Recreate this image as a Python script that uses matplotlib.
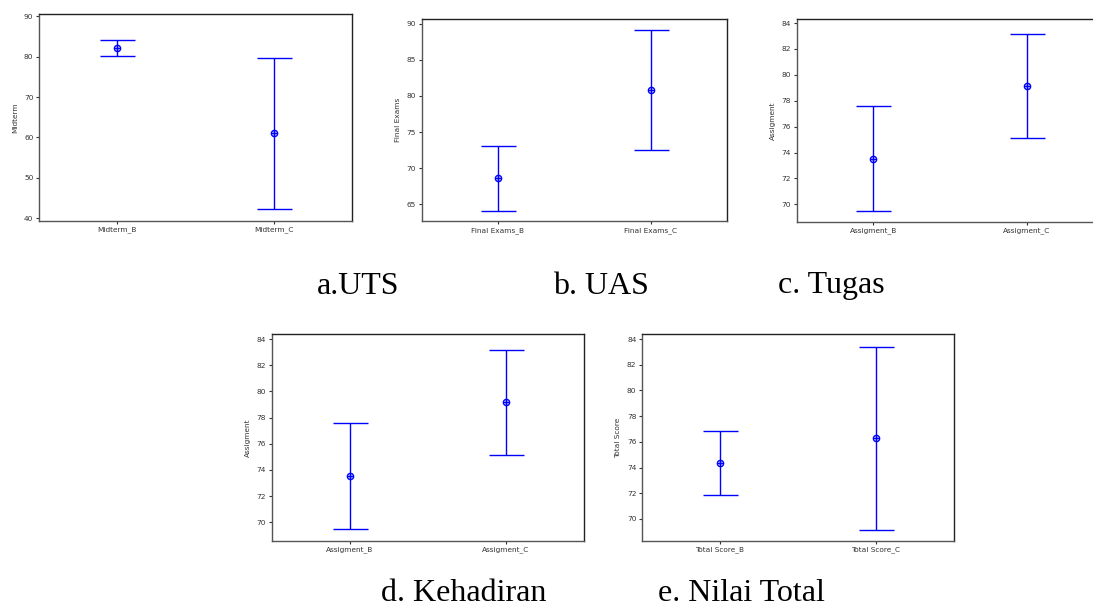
import matplotlib
matplotlib.use("Agg")
import matplotlib.pyplot as plt

# ---- data ----
cats_a = ["Midterm_B", "Midterm_C"]
mean_a = [82.15, 60.99]
low_a = [80.08, 42.23]
up_a = [84.2, 79.59]

cats_b = ["Final Exams_B", "Final Exams_C"]
mean_b = [68.57, 80.83]
low_b = [64.07, 72.5]
up_b = [73.1, 89.1]

cats_c = ["Assigment_B", "Assigment_C"]
mean_c = [73.52, 79.16]
low_c = [69.5, 75.14]
up_c = [77.57, 83.17]

cats_d = ["Assigment_B", "Assigment_C"]
mean_d = [73.52, 79.16]
low_d = [69.5, 75.14]
up_d = [77.57, 83.17]

cats_e = ["Total Score_B", "Total Score_C"]
mean_e = [74.33, 76.28]
low_e = [71.87, 69.17]
up_e = [76.85, 83.35]

ylabels = ["Midterm", "Final Exams", "Assigment", "Assigment", "Total Score"]
captions = ["a.UTS", "b. UAS", "c. Tugas", "d. Kehadiran", "e. Nilai Total"]
yticks_list = [list(range(40, 91, 10)), list(range(65, 91, 5)),
               list(range(70, 85, 2)), list(range(70, 85, 2)), list(range(70, 85, 2))]

W, H = 1093, 614
fig = plt.figure(figsize=(W / 100, H / 100), dpi=100)

# axes boxes in pixels: left, right, top, bottom
boxes = [(39, 352, 14, 221), (421.5, 727, 19.3, 221.3), (796.7, 1103.3, 19.3, 221.7),
         (271.5, 584, 334.3, 540.7), (642, 953.5, 334.3, 540.7)]
ylims = [(39.26, 90.58), (62.6, 90.65), (68.66, 84.29), (68.6, 84.36), (68.31, 84.37)]

panels = [(cats_a, mean_a, low_a, up_a), (cats_b, mean_b, low_b, up_b),
          (cats_c, mean_c, low_c, up_c), (cats_d, mean_d, low_d, up_d),
          (cats_e, mean_e, low_e, up_e)]

blue = "#0000ff"
for i, (cats, m, lo, up) in enumerate(panels):
    l, r, t, b = boxes[i]
    ax = fig.add_axes([l / W, (H - b) / H, (r - l) / W, (b - t) / H])
    x = list(range(1, len(cats) + 1))
    yerr = [[mm - ll for mm, ll in zip(m, lo)], [uu - mm for mm, uu in zip(m, up)]]
    ax.errorbar(x, m, yerr=yerr, fmt="none", ecolor=blue, elinewidth=1.0,
                capsize=12.6, capthick=1.0)
    ax.plot(x, m, linestyle="none", marker="o", markersize=4.5, mfc="none",
            mec=blue, mew=1.0)
    ax.plot(x, m, linestyle="none", marker="+", markersize=4.5, color=blue, mew=1.0)
    ax.set_xlim(0.5, len(cats) + 0.5)
    ax.set_ylim(*ylims[i])
    ax.set_xticks(x)
    ax.set_xticklabels(cats)
    ax.set_yticks(yticks_list[i])
    ax.set_ylabel(ylabels[i], fontsize=5.3, color="#333333", labelpad=4)
    ax.tick_params(axis="both", direction="out", length=2.5, width=0.8,
                   labelsize=5.3, pad=1.5, colors="#333333")
    for side in ["top", "right"]:
        ax.spines[side].set_color("#222222")
        ax.spines[side].set_linewidth(1.0)
    for side in ["left", "bottom"]:
        ax.spines[side].set_color("#555555")
        ax.spines[side].set_linewidth(1.0)

cap_pos = [(358.5, 293.5), (601, 293.5), (831.5, 293.5), (464, 601), (741, 601)]
for (cx, cy), txt in zip(cap_pos, captions):
    fig.text(cx / W, (H - cy) / H, txt, fontsize=23, family="Liberation Serif",
             ha="center", va="baseline", color="black")

fig.savefig("out.png", dpi=100)
